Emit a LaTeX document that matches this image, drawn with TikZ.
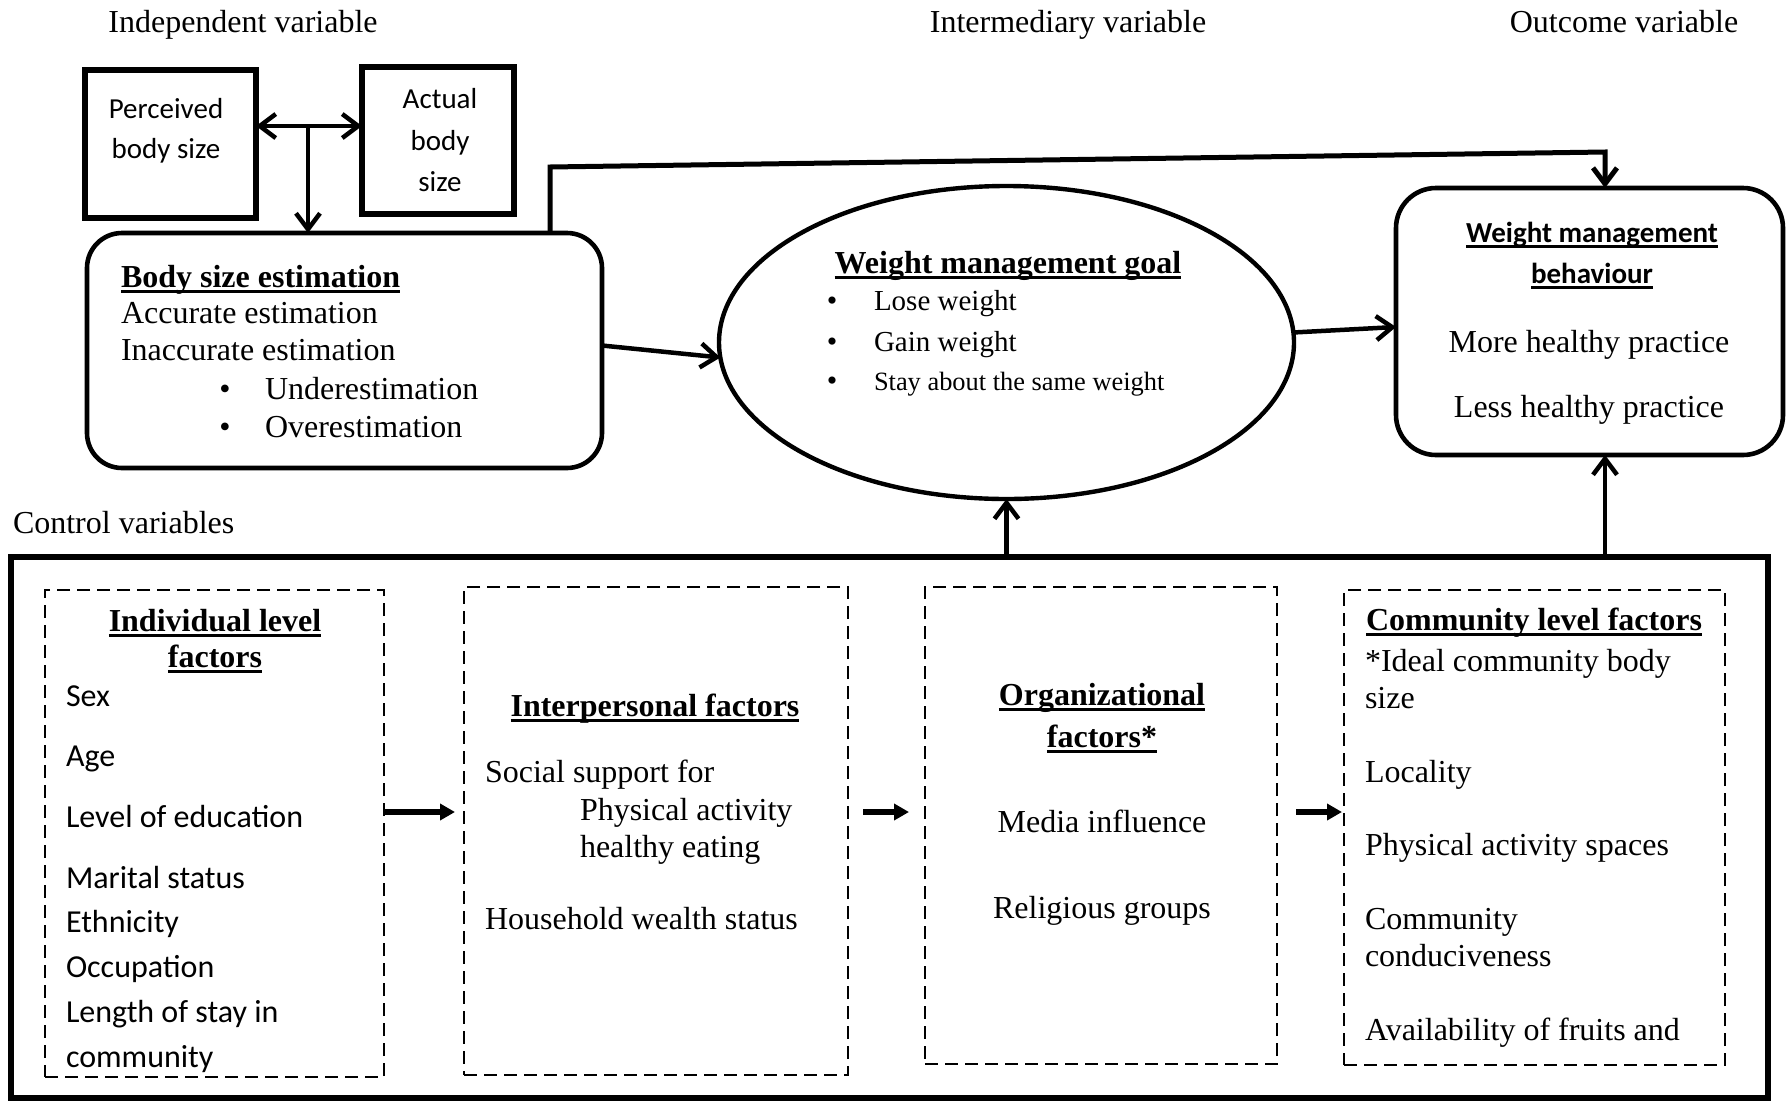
\documentclass[tikz,border=0pt]{standalone}
\usepackage{fontspec}
\setmainfont{Liberation Serif}
\newfontfamily\calib{Carlito}
\usetikzlibrary{arrows.meta,shapes.geometric}
\newcommand\uln[1]{\setbox0=\hbox{#1}\rlap{\rule[-6pt]{\wd0}{3pt}}\box0}
\begin{document}
\begin{tikzpicture}[x=1pt,y=-1pt,
  sbox/.style={draw, line width=5.5pt, inner sep=0pt, outer sep=0pt},
  rbox/.style={draw, line width=4.6pt, inner sep=0pt, outer sep=0pt},
  dbox/.style={draw, line width=2.8pt, dash pattern=on 13pt off 7pt, inner sep=0pt, outer sep=0pt},
  lbl/.style={inner sep=0pt, outer sep=0pt, font=\fontsize{32}{38}\selectfont},
  sans/.style={inner sep=0pt, outer sep=0pt, font=\calib\fontsize{32}{38}\selectfont},
  ssm/.style={inner sep=0pt, outer sep=0pt, font=\calib\fontsize{29}{35}\selectfont},
  sbold/.style={inner sep=0pt, outer sep=0pt, font=\calib\bfseries\fontsize{29}{35}\selectfont},
  bold/.style={inner sep=0pt, outer sep=0pt, font=\bfseries\fontsize{32}{38}\selectfont},
  arr/.style={line width=4.5pt, -{Straight Barb[length=16pt,width=24pt]}},
  sarr/.style={line width=5.5pt, -{Triangle[length=15pt,width=16pt]}}]
\useasboundingbox (0,0) rectangle (1786,1101);

% headers
\node[lbl, anchor=base] (hIn) at (243,32) {Independent variable};
\node[lbl, anchor=base] (hMid) at (1068,32) {Intermediary variable};
\node[lbl, anchor=base] (hOut) at (1624,32) {Outcome variable};

% top boxes
\node[sbox, minimum width=171pt, minimum height=148pt] (perc) at (170.5,144) {};
\node[sbox, minimum width=152pt, minimum height=147pt] (act) at (438,140.5) {};
\node[ssm, anchor=base] (p1) at (166,118) {Perceived};
\node[ssm, anchor=base] (p2) at (166,158) {body size};
\node[ssm, anchor=base] (a1) at (440,108) {Actual};
\node[ssm, anchor=base] (a2) at (440,150) {body};
\node[ssm, anchor=base] (a3) at (440,191) {size};

% body size estimation
\node[rbox, rounded corners=35pt, minimum width=515pt, minimum height=235pt] (body) at (344.5,350.5) {};
\node[bold, anchor=base west] (b0) at (121,287) {\uln{Body size estimation}};
\node[lbl, anchor=base west] (b1) at (121,323) {Accurate estimation};
\node[lbl, anchor=base west] (b2) at (121,360) {Inaccurate estimation};
\node[lbl, anchor=base] (bb1) at (225,399) {•};
\node[lbl, anchor=base] (bb2) at (225,437) {•};
\node[lbl, anchor=base west] (b3) at (265,399) {Underestimation};
\node[lbl, anchor=base west] (b4) at (265,437) {Overestimation};

% goal ellipse
\node[ellipse, draw, line width=4.4pt, inner sep=0pt, outer sep=0pt, minimum width=575pt, minimum height=313pt] (goal) at (1006.5,342.5) {};
\node[bold, anchor=base] (g0) at (1008,273) {\uln{Weight management goal}};
\node[lbl, anchor=base, font=\fontsize{30}{34}\selectfont] (gb1) at (832,310) {•};
\node[lbl, anchor=base, font=\fontsize{30}{34}\selectfont] (gb2) at (832,351) {•};
\node[lbl, anchor=base, font=\fontsize{30}{34}\selectfont] (gb3) at (832,390) {•};
\node[lbl, anchor=base west, font=\fontsize{29}{34}\selectfont] (g1) at (874,310) {Lose weight};
\node[lbl, anchor=base west, font=\fontsize{29}{34}\selectfont] (g2) at (874,351) {Gain weight};
\node[lbl, anchor=base west, font=\fontsize{26.4}{31}\selectfont] (g3) at (874,390) {Stay about the same weight};

% outcome box
\node[rbox, rounded corners=40pt, minimum width=387pt, minimum height=267pt] (outc) at (1589.5,321.5) {};
\node[sbold, anchor=base] (o0) at (1592,242) {\uln{Weight management}};
\node[sbold, anchor=base] (o1) at (1592,283) {\uln{behaviour}};
\node[lbl, anchor=base] (o2) at (1589,352) {More healthy practice};
\node[lbl, anchor=base] (o3) at (1589,417) {Less healthy practice};

% control
\node[lbl, anchor=base west] (cv) at (13,533) {Control variables};
\node[draw, line width=5.5pt, inner sep=0pt, outer sep=0pt, minimum width=1757pt, minimum height=541pt] (ctrl) at (889.5,827.5) {};

\node[dbox, minimum width=339pt, minimum height=487pt] (ind) at (214.5,833.5) {};
\node[dbox, minimum width=384pt, minimum height=488pt] (inter) at (656,831) {};
\node[dbox, minimum width=352pt, minimum height=477pt] (org) at (1101,825.5) {};
\node[dbox, minimum width=381pt, minimum height=475pt] (comm) at (1534.5,827.5) {};

% individual
\node[bold, anchor=base] (i0) at (215,631) {\uln{Individual level}};
\node[bold, anchor=base] (i1) at (215,667) {\uln{factors}};
\node[sans, anchor=base west] (i2) at (66,706) {Sex};
\node[sans, anchor=base west] (i3) at (66,766) {Age};
\node[sans, anchor=base west] (i4) at (66,827) {Level of education};
\node[sans, anchor=base west] (i5) at (66,888) {Marital status};
\node[sans, anchor=base west] (i6) at (66,932) {Ethnicity};
\node[sans, anchor=base west] (i7) at (66,977) {Occupation};
\node[sans, anchor=base west] (i8) at (66,1022) {Length of stay in};
\node[sans, anchor=base west] (i9) at (66,1067) {community};

% interpersonal
\node[bold, anchor=base] (n0) at (655,716) {\uln{Interpersonal factors}};
\node[lbl, anchor=base west] (n1) at (485,782) {Social support for};
\node[lbl, anchor=base west] (n2) at (580,820) {Physical activity};
\node[lbl, anchor=base west] (n3) at (580,857) {healthy eating};
\node[lbl, anchor=base west] (n4) at (485,929) {Household wealth status};

% organizational
\node[bold, anchor=base] (r0) at (1102,705) {\uln{Organizational}};
\node[bold, anchor=base] (r1) at (1102,747) {\uln{factors*}};
\node[lbl, anchor=base] (r2) at (1102,832) {Media influence};
\node[lbl, anchor=base] (r3) at (1102,918) {Religious groups};

% community
\node[bold, anchor=base] (c0) at (1534,630) {\uln{Community level factors}};
\node[lbl, anchor=base west] (c1) at (1365,671) {*Ideal community body};
\node[lbl, anchor=base west] (c2) at (1365,708) {size};
\node[lbl, anchor=base west] (c3) at (1365,782) {Locality};
\node[lbl, anchor=base west] (c4) at (1365,855) {Physical activity spaces};
\node[lbl, anchor=base west] (c5) at (1365,929) {Community};
\node[lbl, anchor=base west] (c6) at (1365,966) {conduciveness};
\node[lbl, anchor=base west] (c7) at (1365,1040) {Availability of fruits and};

% connectors
\coordinate (pm) at (308,126);
\coordinate (tl) at (550,167);
\coordinate (tr) at (1605,152);
\coordinate (ay) at (0,812);
\draw[line width=4.5pt, {Straight Barb[length=16pt,width=24pt]}-{Straight Barb[length=16pt,width=24pt]}] (perc.east |- pm) -- (act.west |- pm);
\draw[arr] (pm) -- (pm |- body.north);
\draw[arr, line width=5pt] (tl |- body.north) -- (tl) -- (tr) -- (tr |- outc.north);
\draw[arr] ([yshift=5pt]body.east) -- (goal.183);
\draw[arr] (goal.2) -- ([yshift=-5.5pt]outc.west);
\draw[arr] (goal.south |- ctrl.north) -- (goal.south);
\draw[arr] (tr |- ctrl.north) -- (tr |- outc.south);
\draw[sarr, shorten >=9pt] (ind.east |- ay) -- (inter.west |- ay);
\draw[sarr, shorten <=15pt, shorten >=16pt] (inter.east |- ay) -- (org.west |- ay);
\draw[sarr, shorten <=19pt, shorten >=2pt] (org.east |- ay) -- (comm.west |- ay);
\end{tikzpicture}
\end{document}
